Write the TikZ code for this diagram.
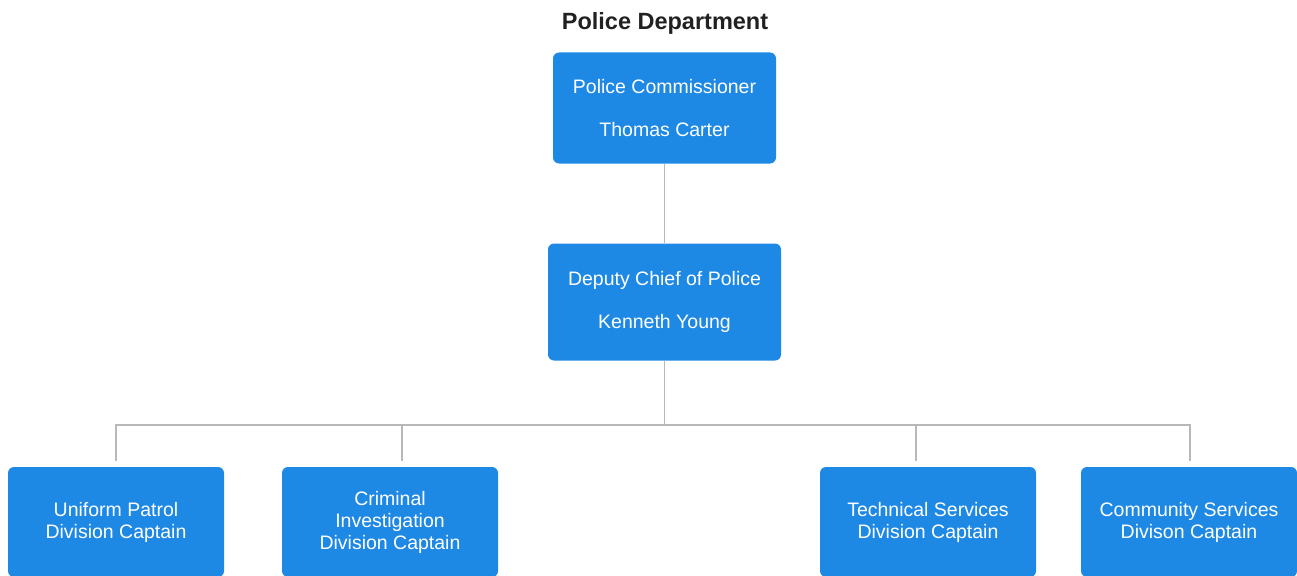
\documentclass[tikz,border=0pt]{standalone}
\usepackage{fontspec}
\setmainfont{Liberation Sans}
\definecolor{boxblue}{HTML}{1E88E5}
\definecolor{linegray}{HTML}{B8B8B8}
\definecolor{titlegray}{HTML}{212121}
\begin{document}
\begin{tikzpicture}[x=1pt,y=-1pt,
  box/.style={fill=boxblue, rounded corners=6pt, text=white, align=center, inner sep=0pt},
  topbox/.style={box, font=\fontsize{19.5}{43}\selectfont},
  divbox/.style={box, font=\fontsize{19.5}{22}\selectfont, minimum width=216pt, minimum height=110pt},
  link/.style={draw=linegray, line width=1.4pt},
  title/.style={font=\fontsize{23.5}{28}\selectfont\bfseries, text=titlegray, inner sep=0pt}]
\useasboundingbox (0,0) rectangle (1297,575);
\clip (0,0) rectangle (1297,575);
\node[title] (ttl) at (665,23.5) {Police Department};
\node[topbox, minimum width=223pt, minimum height=111pt] (comm) at (664.5,108) {Police Commissioner\\Thomas Carter};
\node[topbox, minimum width=233pt, minimum height=117pt] (dep) at (664.5,302) {Deputy Chief of Police\\Kenneth Young};
\node[divbox] (up) at (116,522) {Uniform Patrol\\Division Captain};
\node[divbox] (ci) at (390,522) {Criminal\\Investigation\\Division Captain};
\node[divbox] (ts) at (928,522) {Technical Services\\Division Captain};
\node[divbox] (cs) at (1189,522) {Community Services\\Divison Captain};
\coordinate (bus) at (664.5,425);
\coordinate (d1) at (116,461);
\coordinate (d2) at (402,461);
\coordinate (d3) at (916,461);
\coordinate (d4) at (1190,461);
\draw[link] (comm.south) -- (dep.north);
\draw[link] (dep.south) -- (bus);
\draw[link] (d1) |- (bus) -| (d4);
\draw[link] (d2) -- (d2 |- bus);
\draw[link] (d3) -- (d3 |- bus);
\end{tikzpicture}
\end{document}
